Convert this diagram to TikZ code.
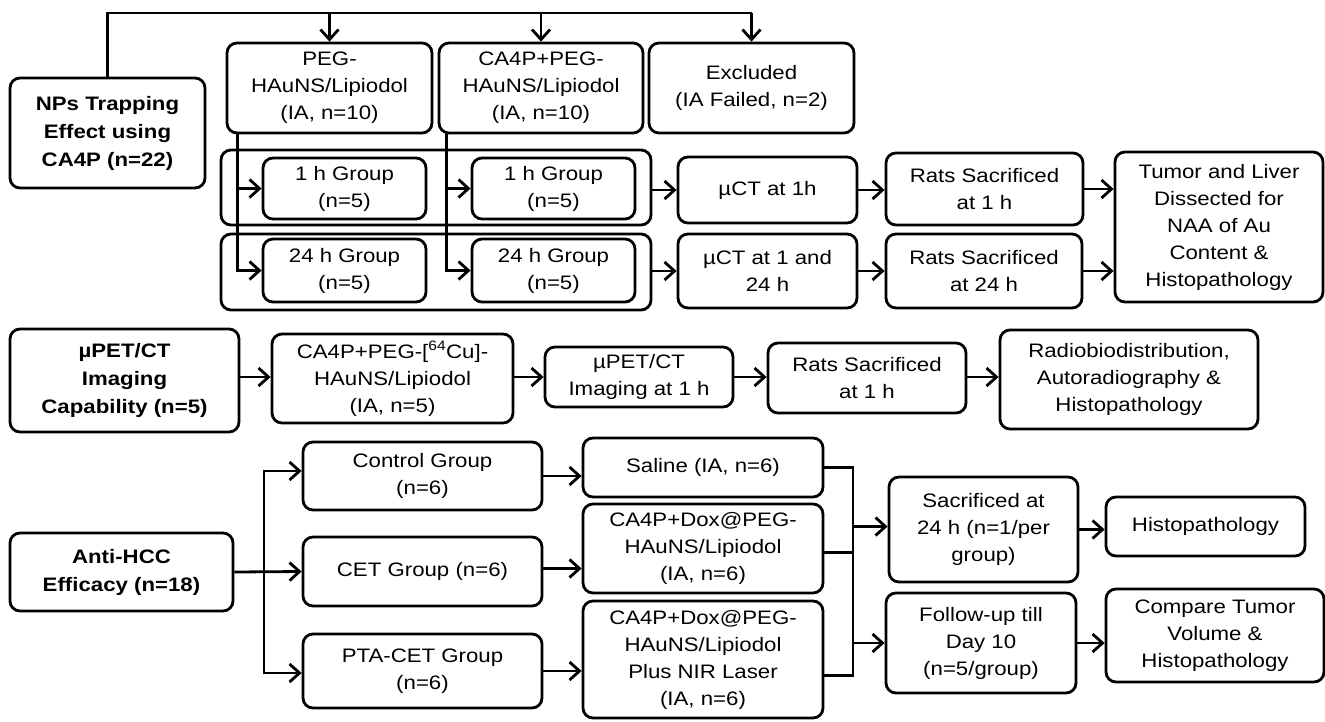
\documentclass[tikz,border=0pt]{standalone}
\usepackage{fontspec}
\setmainfont{Liberation Sans}[FakeStretch=1.14]
\usetikzlibrary{arrows.meta}
\newcommand\mybox[7]{\node[#1, minimum width={(#5-#3)*1pt}, minimum height={(#6-#4)*1pt}] (#2) at ({(#3+#5)/2},{(#4+#6)/2}) {#7};}
\begin{document}
\begin{tikzpicture}[x=1pt,y=-1pt,
  box/.style={draw, line width=2.8pt, rounded corners=10pt, align=center, inner sep=0pt,
    font=\fontsize{19.5}{27}\selectfont},
  bbox/.style={box, font=\fontsize{19.5}{28}\selectfont\bfseries},
  line/.style={line width=2.8pt},
  arr/.style={line width=2.8pt, -{Straight Barb[length=10pt,width=18pt]}}]
\useasboundingbox (0,0) rectangle (1325,721);
% ---------- section 1
\mybox{bbox}{nps}{10}{78}{205}{188}{NPs Trapping\\Effect using\\CA4P (n=22)}
\mybox{box}{peg}{227}{43}{432}{133}{PEG-\\HAuNS/Lipiodol\\(IA, n=10)}
\mybox{box}{ca4p}{439}{43}{643}{133}{CA4P+PEG-\\HAuNS/Lipiodol\\(IA, n=10)}
\mybox{box}{excl}{649}{43}{854}{133}{Excluded\\(IA Failed, n=2)}
\mybox{box}{cont1}{221}{150}{651}{225}{}
\mybox{box}{cont2}{221}{234}{651}{310}{}
\mybox{box}{g1a}{263}{158}{426}{219}{1 h Group\\(n=5)}
\mybox{box}{g1b}{472}{158}{635}{219}{1 h Group\\(n=5)}
\mybox{box}{g24a}{263}{239}{426}{302}{24 h Group\\(n=5)}
\mybox{box}{g24b}{472}{239}{635}{302}{24 h Group\\(n=5)}
\mybox{box}{ct1}{678}{157}{857}{223}{µCT at 1h}
\mybox{box}{ct24}{678}{234}{857}{308}{µCT at 1 and\\24 h}
\mybox{box}{rs1}{886}{153}{1083}{225}{Rats Sacrificed\\at 1 h}
\mybox{box}{rs24}{886}{234}{1082}{308}{Rats Sacrificed\\at 24 h}
\mybox{box}{tumor}{1115}{152}{1323}{302}{Tumor and Liver\\Dissected for\\NAA of Au\\Content \&\\Histopathology}
\coordinate (top) at (0,13);
\draw[line] (nps.north) |- (top -| excl.north);
\draw[arr] (top -| excl.north) -- (excl.north);
\draw[arr] (top -| peg.north) -- (peg.north);
\draw[arr] (top -| ca4p.north) -- (ca4p.north);
\draw[arr] ([xshift=12pt]peg.south west) |- (g24a.west);
\draw[arr] ([xshift=12pt]peg.south west |- g1a.west) -- (g1a.west);
\draw[arr] ([xshift=9pt]ca4p.south west) |- (g24b.west);
\draw[arr] ([xshift=9pt]ca4p.south west |- g1b.west) -- (g1b.west);
\draw[arr] (cont1.east |- ct1.west) -- (ct1.west);
\draw[arr] (cont2.east |- ct24.west) -- (ct24.west);
\draw[arr] (ct1.east) -- (ct1.east -| rs1.west);
\draw[arr] (ct24.east) -- (ct24.east -| rs24.west);
\draw[arr] (rs1.east) -- (rs1.east -| tumor.west);
\draw[arr] (rs24.east) -- (rs24.east -| tumor.west);
% ---------- section 2
\mybox{bbox}{pet}{10}{329}{239}{432}{µPET/CT\\Imaging\\Capability (n=5)}
\mybox{box}{cu}{272}{334}{513}{423}{CA4P+PEG-[\textsuperscript{64}Cu]-\\HAuNS/Lipiodol\\(IA, n=5)}
\mybox{box}{petimg}{545}{347}{733}{407}{µPET/CT\\Imaging at 1 h}
\mybox{box}{rsp}{768}{343}{966}{413}{Rats Sacrificed\\at 1 h}
\mybox{box}{radio}{1000}{330}{1258}{429}{Radiobiodistribution,\\Autoradiography \&\\Histopathology}
\draw[arr] (pet.east |- petimg.west) -- (cu.west |- petimg.west);
\draw[arr] (cu.east |- petimg.west) -- (petimg.west);
\draw[arr] (petimg.east) -- (petimg.east -| rsp.west);
\draw[arr] (rsp.east |- petimg.west) -- (radio.west |- petimg.west);
% ---------- section 3
\mybox{bbox}{hcc}{10}{533}{233}{611}{Anti-HCC\\Efficacy (n=18)}
\mybox{box}{ctrl}{303}{442}{542}{510}{Control Group\\(n=6)}
\mybox{box}{cet}{303}{537}{542}{606}{CET Group (n=6)}
\mybox{box}{pta}{303}{634}{542}{708}{PTA-CET Group\\(n=6)}
\mybox{box}{sal}{583}{438}{823}{497}{Saline (IA, n=6)}
\mybox{box}{dox1}{583}{504}{823}{593}{CA4P+Dox@PEG-\\HAuNS/Lipiodol\\(IA, n=6)}
\mybox{box}{dox2}{583}{601}{823}{718}{CA4P+Dox@PEG-\\HAuNS/Lipiodol\\Plus NIR Laser\\(IA, n=6)}
\mybox{box}{sac}{889}{477}{1078}{582}{Sacrificed at\\24 h (n=1/per\\group)}
\mybox{box}{fol}{886}{593}{1076}{693}{Follow-up till\\Day 10\\(n=5/group)}
\mybox{box}{histo}{1106}{497}{1305}{556}{Histopathology}
\mybox{box}{comp}{1106}{589}{1324}{682}{Compare Tumor\\Volume \&\\Histopathology}
\coordinate (trunk) at (264,572);
\draw[arr] (hcc.east) -- (cet.west);
\draw[arr] (trunk) |- ([yshift=5pt]ctrl.west);
\draw[arr] (trunk) |- ([yshift=-2pt]pta.west);
\draw[arr] (ctrl.east) -- (ctrl.east -| sal.west);
\draw[arr] ([yshift=3pt]cet.east) -- ([yshift=3pt]cet.east -| dox1.west);
\draw[arr] (pta.east) -- (pta.east -| dox2.west);
\coordinate (mg) at (853,0);
\draw[line] (sal.east) -- (sal.east -| mg) -- ([yshift=-16pt]dox2.east -| mg) -- ([yshift=-16pt]dox2.east);
\draw[line] ([yshift=-4pt]dox1.east) -- ([yshift=-4pt]dox1.east -| mg);
\draw[arr] ([yshift=3pt]mg |- sac.west) -- ([yshift=3pt]sac.west);
\draw[arr] (mg |- fol.west) -- (fol.west);
\draw[arr] (sac.east) -- (sac.east -| histo.west);
\draw[arr] (fol.east) -- (fol.east -| comp.west);
\end{tikzpicture}
\end{document}
